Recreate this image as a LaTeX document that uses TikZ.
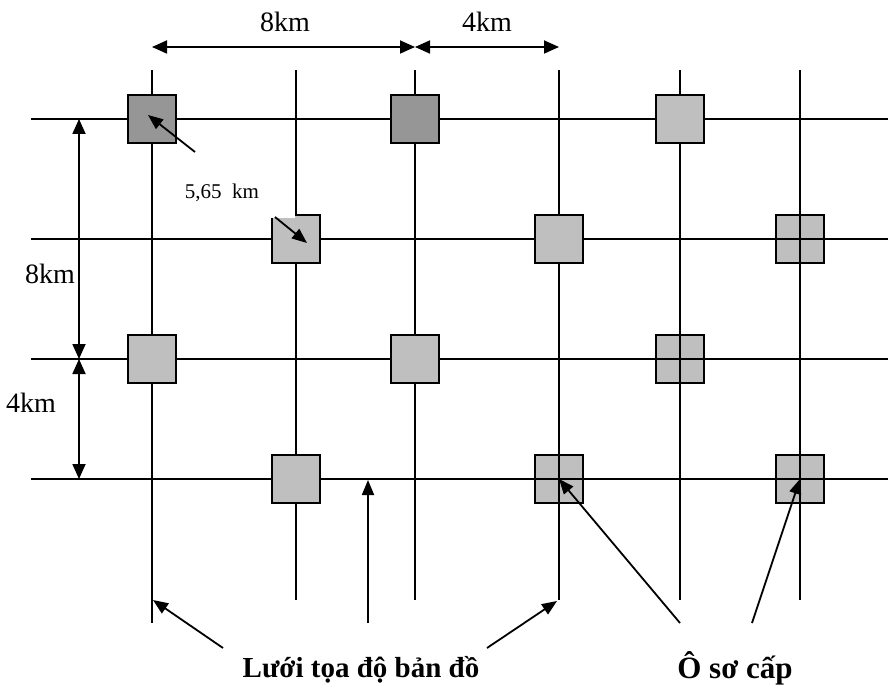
\documentclass[tikz,border=0pt]{standalone}
\usepackage{fontspec}
\setmainfont{Liberation Serif}
\usetikzlibrary{arrows.meta}
\definecolor{cellDark}{gray}{0.59}
\definecolor{cellLight}{gray}{0.75}
\begin{document}
\begin{tikzpicture}[x=1pt,y=-1pt,
  gridline/.style={line width=1.8pt},
  cellbox/.style={draw, line width=1.8pt, minimum size=48pt, inner sep=0pt},
  darkcell/.style={cellbox, fill=cellDark},
  lightcell/.style={cellbox, fill=cellLight},
  tip/.style={Triangle[length=15pt,width=12pt]},
  pointer/.style={line width=1.8pt, -{Triangle[length=15pt,width=12pt]}},
  dimline/.style={line width=1.8pt, {Triangle[length=15pt,width=13pt]}-{Triangle[length=15pt,width=13pt]}},
  dimlbl/.style={font=\fontsize{28}{30}\selectfont, inner sep=0pt, anchor=base},
  smalllbl/.style={font=\fontsize{21}{23}\selectfont, inner sep=0pt, anchor=base},
  caption/.style={font=\bfseries\fontsize{#1}{#1}\selectfont, inner sep=0pt, anchor=base},
  ]
\useasboundingbox (0,0) rectangle (888,687);

% grid intersections used by the dimension arrows and pointers
\coordinate (x1) at (152,0);
\coordinate (x2) at (296,0);
\coordinate (x3) at (415,0);
\coordinate (x4) at (559,0);
\coordinate (x5) at (680,0);
\coordinate (x6) at (800,0);

% cells with the map grid visible through them (drawn below the grid)
\node[lightcell] (s26) at (800,239) {};
\node[lightcell] (s35) at (680,359) {};
\node[lightcell] (s44) at (559,479) {};
\node[lightcell] (s46) at (800,479) {};

% horizontal grid lines
\foreach \y in {119,239,359,479}
  \draw[gridline] (31,\y) -- (888,\y);

% vertical grid lines
\draw[gridline] (152,70) -- (152,623);
\foreach \x in {296,415,559,680,800}
  \draw[gridline] (\x,70) -- (\x,600);

% opaque cells
\node[darkcell]  (s11) at (152,119) {};
\node[darkcell]  (s13) at (415,119) {};
\node[lightcell] (s15) at (680,119) {};
\node[lightcell] (s22) at (296,239) {};
\node[lightcell] (s24) at (559,239) {};
\node[lightcell] (s31) at (152,359) {};
\node[lightcell] (s33) at (415,359) {};
\node[lightcell] (s42) at (296,479) {};

% white label box of the diagonal distance
\fill[white] (250,152) rectangle (294.8,217.5);

% diagonal distance between two cells
\coordinate (d1a) at (195,152);
\coordinate (d1b) at (148,115);
\coordinate (d2a) at (275,217);
\coordinate (d2b) at (307,243);
\draw[pointer] (d1a) -- (d1b);
\draw[pointer] (d2a) -- (d2b);
\node[smalllbl] (diag) at (222,198) {5,65\ \ km};

% top dimensions
\coordinate (t1) at (152,47);
\coordinate (t2) at (415,47);
\coordinate (t3) at (559,47);
\draw[dimline] (t1) -- (t2);
\draw[dimline] (t2) -- (t3);
\node[dimlbl] (top8) at (285,32) {8km};
\node[dimlbl] (top4) at (487,32) {4km};

% left dimensions
\coordinate (l1) at (79,119);
\coordinate (l2) at (79,359);
\coordinate (l3) at (79,479);
\draw[dimline] (l1) -- (l2);
\draw[dimline] (l2) -- (l3);
\node[dimlbl] (left8) at (50,283) {8km};
\node[dimlbl] (left4) at (31,412) {4km};

% captions
\node[caption=29] (grid) at (361,677) {Lưới tọa độ bản đồ};
\node[caption=31] (cell) at (735,678) {Ô sơ cấp};

% pointers to the map grid
\coordinate (g1a) at (223,648);
\coordinate (g1b) at (153,600);
\coordinate (g2a) at (368,623);
\coordinate (g2b) at (368,480);
\coordinate (g3a) at (487,648);
\coordinate (g3b) at (557,601);
\draw[pointer] (g1a) -- (g1b);
\draw[pointer] (g2a) -- (g2b);
\draw[pointer] (g3a) -- (g3b);

% pointers to the primary cells
\coordinate (c1a) at (680,623);
\coordinate (c2a) at (752,623);
\draw[pointer] (c1a) -- (s44.center);
\draw[pointer] (c2a) -- (s46.center);
\end{tikzpicture}
\end{document}
